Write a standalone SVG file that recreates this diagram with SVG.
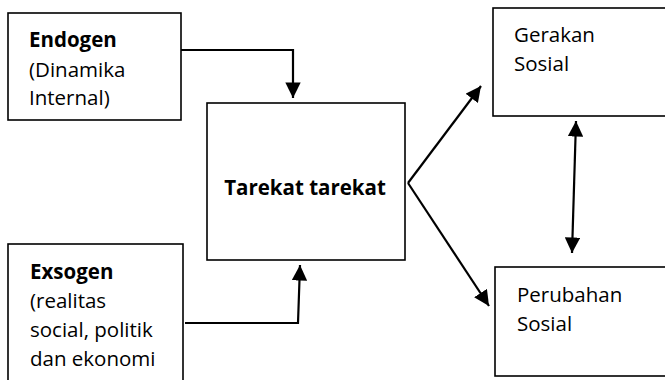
<svg xmlns="http://www.w3.org/2000/svg" width="665" height="380" viewBox="0 0 665 380">
<style>
.box{fill:#fff;stroke:#000;stroke-width:1.6}
.t{font-family:"Open Sans","Liberation Sans",sans-serif;font-size:20.5px;fill:#000}
.b{font-weight:bold}
.c{fill:none;stroke:#000;stroke-width:2.2}
</style>
<defs>
<marker id="ah" viewBox="0 0 10 10" refX="10" refY="5" markerWidth="7.2" markerHeight="7" markerUnits="strokeWidth" orient="auto-start-reverse">
<path d="M0,0 L10,5 L0,10 z" fill="#000"/>
</marker>
</defs>
<g id="endogen">
<rect class="box" x="8" y="13" width="173" height="107"/>
<text class="t b" x="29" y="47">Endogen</text>
<text class="t" x="29" y="77">(Dinamika</text>
<text class="t" x="29" y="105">Internal)</text>
</g>
<g id="exsogen">
<rect class="box" x="8" y="244" width="175" height="150"/>
<text class="t b" x="30" y="279">Exsogen</text>
<text class="t" x="30" y="308">(realitas</text>
<text class="t" x="30" y="337">social, politik</text>
<text class="t" x="30" y="366">dan ekonomi</text>
</g>
<g id="tarekat">
<rect class="box" x="207" y="103" width="198" height="157"/>
<text class="t b" x="305" y="195" text-anchor="middle">Tarekat tarekat</text>
</g>
<g id="gerakan">
<rect class="box" x="493" y="8" width="180" height="108"/>
<text class="t" x="514" y="42">Gerakan</text>
<text class="t" x="514" y="71">Sosial</text>
</g>
<g id="perubahan">
<rect class="box" x="495" y="267" width="180" height="109"/>
<text class="t" x="517" y="302">Perubahan</text>
<text class="t" x="517" y="331">Sosial</text>
</g>
<g id="connectors">
<path class="c" d="M181,50 H293 V98" marker-end="url(#ah)"/>
<path class="c" d="M185,323 H298 L300,265" marker-end="url(#ah)"/>
<path class="c" d="M408,183 L481,86" marker-end="url(#ah)"/>
<path class="c" d="M408,183 L489,306" marker-end="url(#ah)"/>
<path class="c" d="M576,121 L572,253" marker-start="url(#ah)" marker-end="url(#ah)"/>
</g>
</svg>
